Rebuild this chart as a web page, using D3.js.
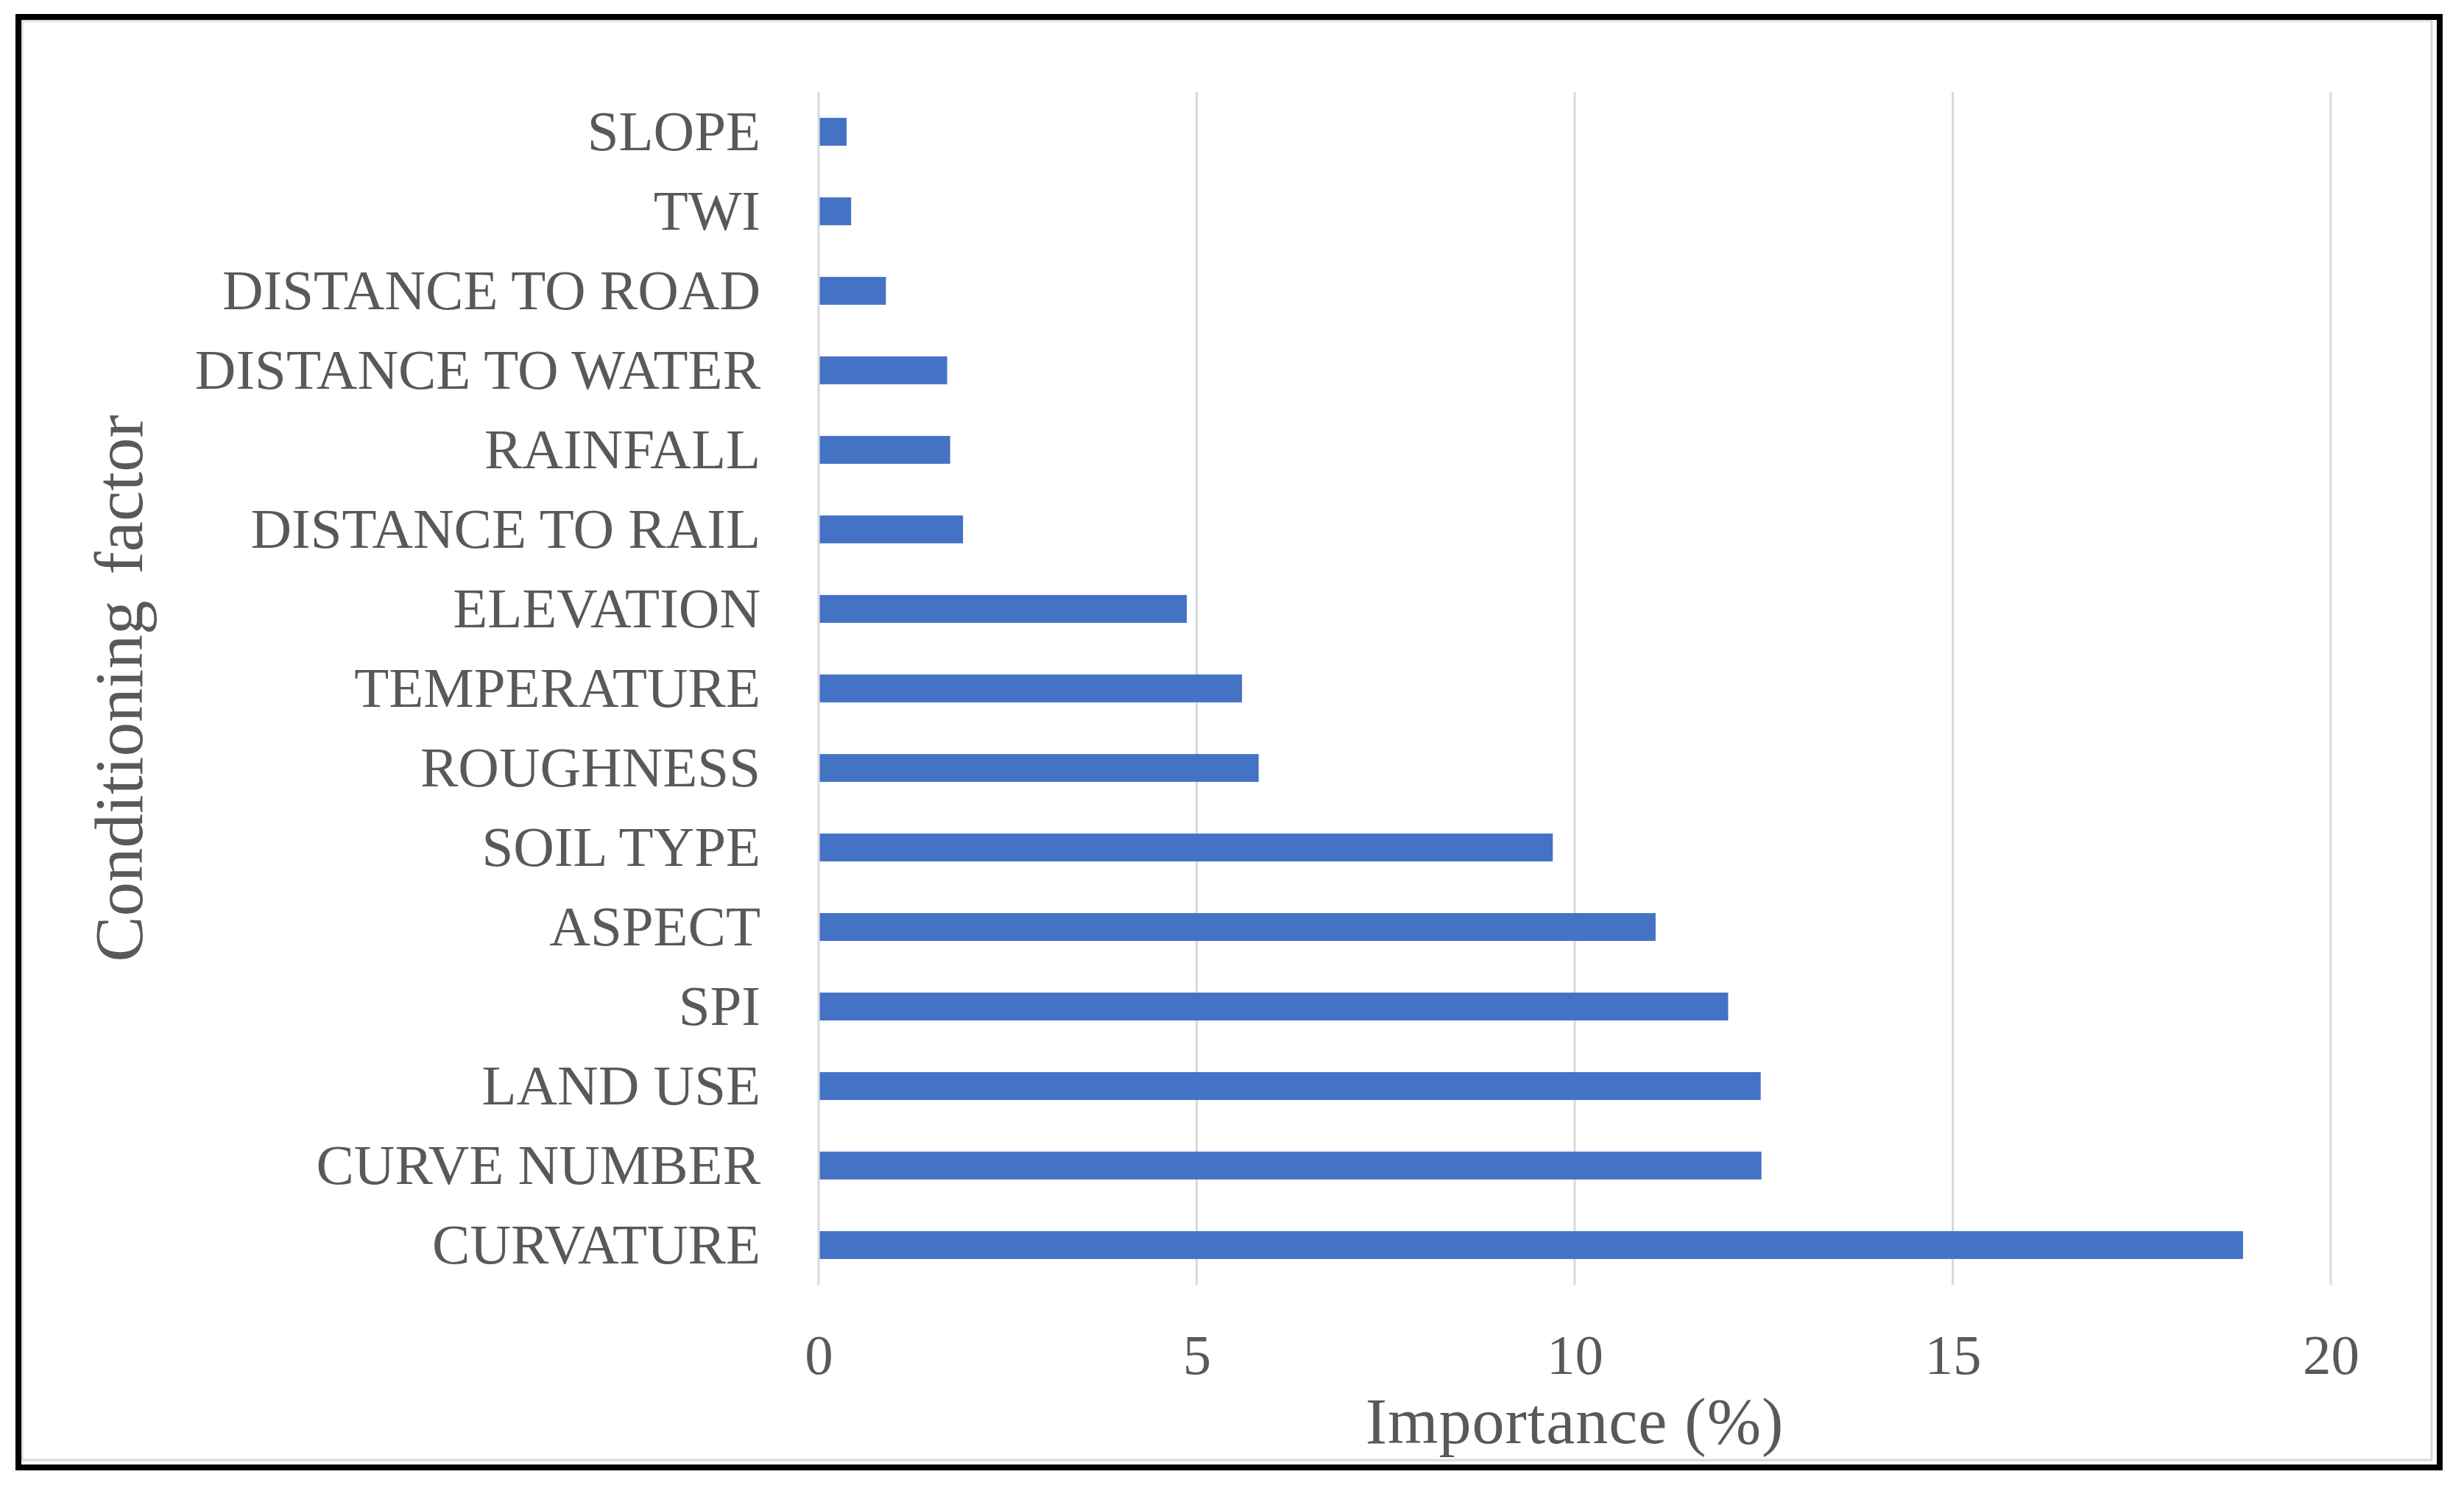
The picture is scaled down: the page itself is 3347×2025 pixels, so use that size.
<!DOCTYPE html>
<html>
<head>
<meta charset="utf-8">
<script src="https://cdn.jsdelivr.net/npm/d3@7"></script>
<style>
  html, body { margin: 0; padding: 0; background: #ffffff; }
  svg { display: block; }
  text { font-family: "Liberation Serif", "Times New Roman", serif; fill: #595959; }
</style>
</head>
<body>
<svg id="chart" width="3347" height="2025"></svg>
<script>
// ---- data ----
const categories = [
  "SLOPE", "TWI", "DISTANCE TO ROAD", "DISTANCE TO WATER", "RAINFALL",
  "DISTANCE TO RAIL", "ELEVATION", "TEMPERATURE", "ROUGHNESS", "SOIL TYPE",
  "ASPECT", "SPI", "LAND USE", "CURVE NUMBER", "CURVATURE"
];
const importance = [
  0.37, 0.43, 0.89, 1.70, 1.74,
  1.91, 4.87, 5.60, 5.82, 9.71,
  11.07, 12.03, 12.46, 12.47, 18.84
];
const xTicks = [0, 5, 10, 15, 20];
const xTitle = "Importance (%)";
const yTitle = "Conditioning factor";

// ---- layout ----
const W = 3347, H = 2025;
const plot = { left: 1112, right: 3166, top: 125, bottom: 1745 };

const svg = d3.select("#chart");

// frame
svg.append("rect").attr("x", 0).attr("y", 0).attr("width", W).attr("height", H).attr("fill", "#ffffff");
svg.append("rect")
  .attr("x", 30).attr("y", 28).attr("width", 3273).attr("height", 1955)
  .attr("fill", "none").attr("stroke", "#d9d9d9").attr("stroke-width", 3);
svg.append("rect")
  .attr("x", 25).attr("y", 23).attr("width", 3289).attr("height", 1970)
  .attr("fill", "none").attr("stroke", "#000000").attr("stroke-width", 8);

const x = d3.scaleLinear().domain([0, 20]).range([plot.left, plot.right]);
const y = d3.scaleBand().domain(categories).range([plot.top, plot.bottom])
  .paddingInner(0.65).paddingOuter(0.325);

// gridlines
svg.append("g").selectAll("line").data(xTicks).join("line")
  .attr("x1", d => x(d)).attr("x2", d => x(d))
  .attr("y1", plot.top).attr("y2", plot.bottom)
  .attr("stroke", "#d9d9d9").attr("stroke-width", 3);

// bars
svg.append("g").selectAll("rect").data(categories).join("rect")
  .attr("x", x(0) + 1.5)
  .attr("y", d => y(d))
  .attr("width", (d, i) => x(importance[i]) - x(0) - 1.5)
  .attr("height", y.bandwidth())
  .attr("fill", "#4472C4");

// y axis (category labels)
const yAxis = svg.append("g").attr("transform", `translate(${plot.left},0)`)
  .call(d3.axisLeft(y).tickSize(0).tickPadding(79));
yAxis.select(".domain").remove();
yAxis.selectAll("text")
  .style("font-family", "'Liberation Serif', serif")
  .style("font-size", "77px").attr("fill", "#595959");

// x axis
const xAxis = svg.append("g").attr("transform", `translate(0,${plot.bottom})`)
  .call(d3.axisBottom(x).tickValues(xTicks).tickSize(0).tickPadding(66).tickFormat(d3.format("d")));
xAxis.select(".domain").remove();
xAxis.selectAll("text")
  .style("font-family", "'Liberation Serif', serif")
  .style("font-size", "77px").attr("fill", "#595959");

// axis titles
svg.append("text")
  .attr("x", (plot.left + plot.right) / 2).attr("y", 1960)
  .attr("text-anchor", "middle")
  .style("font-size", "88px")
  .style("letter-spacing", "1px")
  .text(xTitle);

svg.append("text")
  .attr("transform", `translate(193,${(plot.top + plot.bottom) / 2}) rotate(-90)`)
  .attr("text-anchor", "middle")
  .style("font-size", "93px")
  .style("word-spacing", "12px")
  .text(yTitle);
</script>
</body>
</html>
